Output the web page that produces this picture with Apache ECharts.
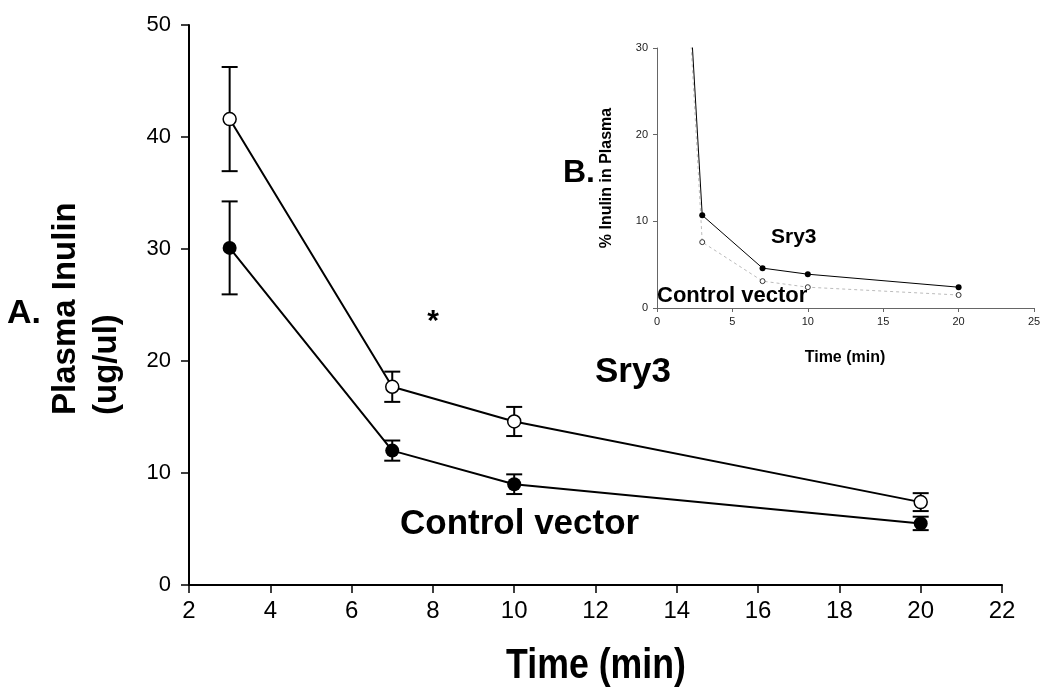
<!DOCTYPE html>
<html>
<head>
<meta charset="utf-8">
<script src="https://cdn.jsdelivr.net/npm/echarts@6/dist/echarts.min.js"></script>
<style>html,body{margin:0;padding:0;background:#fff;}#c{width:1050px;height:697px;}</style>
</head>
<body>
<div id="c"></div>
<script>
// ---- Panel A data ----
const times = [3, 7, 10, 20];
const openMean = [41.6, 17.7, 14.6, 7.4];   // upper curve (open circles)
const openErr  = [4.65, 1.35, 1.3, 0.8];
const filledMean = [30.1, 12.0, 9.0, 5.5];  // lower curve (filled circles)
const filledErr  = [4.15, 0.9, 0.88, 0.6];
const xTicksA = [2, 22, 2];   // min, max, interval
const yTicksA = [0, 50, 10];

// ---- Panel B (inset) data ----
const timesB = [0, 3, 7, 10, 20];
const insetFilled = [100, 10.7, 4.6, 3.9, 2.4];
const insetOpen   = [100, 7.6, 3.1, 2.4, 1.5];
const xTicksB = [0, 25, 5];
const yTicksB = [0, 30, 10];

const pairs = (xs, ys) => xs.map((x, i) => [x, ys[i]]);
const errData = (xs, m, e) => xs.map((x, i) => [x, m[i] - e[i], m[i] + e[i]]);

function errRender(params, api) {
  const x = api.value(0), lo = api.value(1), hi = api.value(2);
  const pHi = api.coord([x, hi]), pLo = api.coord([x, lo]);
  const w = 8;
  const st = {stroke: '#000', lineWidth: 2};
  return {type: 'group', children: [
    {type: 'line', shape: {x1: pHi[0], y1: pHi[1], x2: pLo[0], y2: pLo[1]}, style: st},
    {type: 'line', shape: {x1: pHi[0]-w, y1: pHi[1], x2: pHi[0]+w, y2: pHi[1]}, style: st},
    {type: 'line', shape: {x1: pLo[0]-w, y1: pLo[1], x2: pLo[0]+w, y2: pLo[1]}, style: st}
  ]};
}

const SANS = '"Liberation Sans", Arial, sans-serif';

const chart = echarts.init(document.getElementById('c'));
chart.setOption({
  animation: false,
  backgroundColor: '#fff',
  grid: [
    {left: 189, right: 48, top: 25, bottom: 112},
    {left: 657, right: 16, top: 48, height: 260}
  ],
  xAxis: [
    {gridIndex: 0, type: 'value', min: xTicksA[0], max: xTicksA[1], interval: xTicksA[2],
     axisLine: {onZero: false, lineStyle: {color: '#000', width: 2}},
     axisTick: {show: true, length: 8, lineStyle: {color: '#000', width: 1.5}},
     axisLabel: {color: '#000', fontSize: 24, fontFamily: SANS, margin: 14},
     splitLine: {show: false}},
    {gridIndex: 1, type: 'value', min: xTicksB[0], max: xTicksB[1], interval: xTicksB[2],
     axisLine: {onZero: false, lineStyle: {color: '#666', width: 1}},
     axisTick: {show: true, length: 4, lineStyle: {color: '#666'}},
     axisLabel: {color: '#222', fontSize: 11, fontFamily: SANS, margin: 8},
     splitLine: {show: false}}
  ],
  yAxis: [
    {gridIndex: 0, type: 'value', min: yTicksA[0], max: yTicksA[1], interval: yTicksA[2],
     axisLine: {show: true, onZero: false, lineStyle: {color: '#000', width: 2}},
     axisTick: {show: true, length: 8, lineStyle: {color: '#000', width: 1.5}},
     axisLabel: {color: '#000', fontSize: 22, fontFamily: SANS, margin: 18},
     splitLine: {show: false}},
    {gridIndex: 1, type: 'value', min: yTicksB[0], max: yTicksB[1], interval: yTicksB[2],
     axisLine: {show: true, onZero: false, lineStyle: {color: '#666', width: 1}},
     axisTick: {show: true, length: 4, lineStyle: {color: '#666'}},
     axisLabel: {color: '#222', fontSize: 11, fontFamily: SANS, margin: 9},
     splitLine: {show: false}}
  ],
  series: [
    {type: 'custom', xAxisIndex: 0, yAxisIndex: 0, renderItem: errRender,
     encode: {x: 0, y: [1, 2]}, data: errData(times, openMean, openErr), z: 2},
    {type: 'custom', xAxisIndex: 0, yAxisIndex: 0, renderItem: errRender,
     encode: {x: 0, y: [1, 2]}, data: errData(times, filledMean, filledErr), z: 2},
    {type: 'line', xAxisIndex: 0, yAxisIndex: 0, data: pairs(times, openMean),
     symbol: 'circle', symbolSize: 13, z: 5,
     lineStyle: {color: '#000', width: 2},
     itemStyle: {color: '#fff', borderColor: '#000', borderWidth: 1.5}},
    {type: 'line', xAxisIndex: 0, yAxisIndex: 0, data: pairs(times, filledMean),
     symbol: 'circle', symbolSize: 14, z: 5,
     lineStyle: {color: '#000', width: 2},
     itemStyle: {color: '#000', borderColor: '#000', borderWidth: 0}},
    {type: 'line', xAxisIndex: 1, yAxisIndex: 1, data: pairs(timesB, insetOpen),
     symbol: 'circle', symbolSize: 5, clip: true, z: 4,
     lineStyle: {color: '#bbb', width: 1, type: [3, 3]},
     itemStyle: {color: '#fff', borderColor: '#333', borderWidth: 1}},
    {type: 'line', xAxisIndex: 1, yAxisIndex: 1, data: pairs(timesB, insetFilled),
     symbol: 'circle', symbolSize: 6, clip: true, z: 5,
     lineStyle: {color: '#000', width: 1},
     itemStyle: {color: '#000', borderWidth: 0}}
  ],
  graphic: [
    {type: 'text', left: 7, top: 297, style: {text: 'A.', font: 'bold 34px ' + SANS, fill: '#000'}},
    {type: 'text', x: 66, y: 415, rotation: Math.PI / 2,
     style: {text: 'Plasma Inulin', font: 'bold 33px ' + SANS, fill: '#000', align: 'left', verticalAlign: 'middle'}},
    {type: 'text', x: 107, y: 415, rotation: Math.PI / 2,
     style: {text: '(ug/ul)', font: 'bold 33px ' + SANS, fill: '#000', align: 'left', verticalAlign: 'middle'}},
    {type: 'text', x: 596, y: 666, scaleX: 0.85,
     style: {text: 'Time (min)', font: 'bold 42px ' + SANS, fill: '#000', align: 'center', verticalAlign: 'middle'}},
    {type: 'text', x: 433, y: 322, style: {text: '*', font: 'bold 30px ' + SANS, fill: '#000', align: 'center', verticalAlign: 'middle'}},
    {type: 'text', x: 595, y: 390, style: {text: 'Sry3', font: 'bold 35px ' + SANS, fill: '#000', align: 'left', verticalAlign: 'bottom'}},
    {type: 'text', x: 400, y: 542, style: {text: 'Control vector', font: 'bold 35px ' + SANS, fill: '#000', align: 'left', verticalAlign: 'bottom'}},
    {type: 'text', left: 563, top: 157, style: {text: 'B.', font: 'bold 32px ' + SANS, fill: '#000'}},
    {type: 'text', x: 607, y: 178, rotation: Math.PI / 2,
     style: {text: '% Inulin in Plasma', font: 'bold 16px ' + SANS, fill: '#000', align: 'center', verticalAlign: 'middle'}},
    {type: 'text', x: 845, y: 358, style: {text: 'Time (min)', font: 'bold 16px ' + SANS, fill: '#000', align: 'center', verticalAlign: 'middle'}},
    {type: 'text', x: 771, y: 248, style: {text: 'Sry3', font: 'bold 21px ' + SANS, fill: '#000', align: 'left', verticalAlign: 'bottom'}},
    {type: 'text', x: 657, y: 307, z: 10, style: {text: 'Control vector', font: 'bold 22px ' + SANS, fill: '#000', align: 'left', verticalAlign: 'bottom'}}
  ]
});
</script>
</body>
</html>
